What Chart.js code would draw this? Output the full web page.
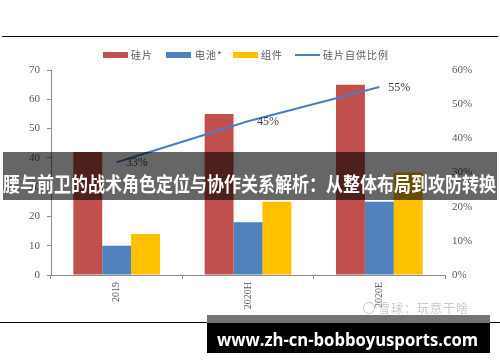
<!DOCTYPE html>
<html>
<head>
<meta charset="utf-8">
<script src="https://cdn.jsdelivr.net/npm/chart.js@4.4.0/dist/chart.umd.min.js"></script>
<style>
  html, body { margin: 0; padding: 0; background: #fff; }
  #wrap { position: relative; width: 500px; height: 362px; overflow: hidden; background: #fff; }
  #c { position: absolute; left: 0; top: 0; }
  .abs { position: absolute; }
  .hline { position: absolute; background: #000; height: 1px; }
  .lg-box { position: absolute; height: 6px; width: 25px; }
  .lg-txt { position: absolute; font-family: "Noto Sans CJK SC", sans-serif; font-size: 10px; color: #595959; line-height: 12px; letter-spacing: 1px; white-space: nowrap; }
  #banner { position: absolute; left: 3px; top: 152px; width: 494px; height: 48px; background: rgba(0,0,0,0.6); z-index: 5; }
  #bannerTxt { position: absolute; left: 3px; top: 172px; font-family: "Noto Sans CJK SC", sans-serif; font-weight: bold; font-size: 20px; line-height: 24px; color: #fff; white-space: nowrap; transform-origin: 0 0; z-index: 6; }
  #urlTop { position: absolute; left: 207px; top: 315px; width: 283px; height: 8px; background: #737373; z-index: 5; }
  #urlBox { position: absolute; left: 207px; top: 323px; width: 283px; height: 30px; background: #000; z-index: 5; }
  #urlTxt { position: absolute; left: 217px; top: 329px; font-family: "Open Sans", "DejaVu Sans", sans-serif; font-weight: bold; font-size: 17px; line-height: 22px; color: #fff; white-space: nowrap; transform-origin: 0 0; z-index: 6; }
  #wm { position: absolute; left: 363px; top: 301px; font-family: "Noto Sans CJK SC", sans-serif; font-size: 12px; color: #c8c8c8; white-space: nowrap; line-height: 14px; letter-spacing: 1px; }
  #wmLogo { display: inline-block; width: 10px; height: 10px; border: 1px solid #c8c8c8; border-radius: 50%; vertical-align: -1px; margin-right: 3px; }
</style>
</head>
<body>
<div id="wrap">
  <canvas id="c" width="500" height="362"></canvas>
  <div class="hline" style="left:2px; top:36px; width:496px;"></div>
  <div class="hline" style="left:0px; top:322px; width:500px;"></div>

  <div class="lg-box" style="left:103px; top:52px; background:#c0504d;"></div>
  <div class="lg-txt" style="left:131px; top:49px;">硅片</div>
  <div class="lg-box" style="left:166px; top:52px; background:#4f81bd;"></div>
  <div class="lg-txt" style="left:195px; top:49px;">电池*</div>
  <div class="lg-box" style="left:233px; top:52px; background:#ffc000;"></div>
  <div class="lg-txt" style="left:261px; top:49px;">组件</div>
  <div class="abs" style="left:295px; top:54px; width:25px; height:2px; background:#4a7ec2;"></div>
  <div class="lg-txt" style="left:323px; top:49px;">硅片自供比例</div>

  <div id="wm"><span id="wmLogo"></span>雪球：玩意干啥</div>

  <div id="banner"></div>
  <div id="bannerTxt">腰与前卫的战术角色定位与协作关系解析：从整体布局到攻防转换</div>
  <div id="urlTop"></div>
  <div id="urlBox"></div>
  <div id="urlTxt">www.zh-cn-bobboyusports.com</div>
</div>
<script>
const categories = ['2019', '2020H', '2020E'];
const waferValues = [42, 55, 65];
const cellValues = [10, 18, 25];
const moduleValues = [14, 25, 35];
const selfSupplyRatio = [33, 45, 55];
const seriesNames = ['硅片', '电池*', '组件', '硅片自供比例'];
const leftAxisMax = 70;
const rightAxisMax = 60;

function fitWidth(id, w) {
  const el = document.getElementById(id);
  const cur = el.scrollWidth;
  el.style.transform = 'scaleX(' + (w / cur) + ')';
}
fitWidth('bannerTxt', 493);
fitWidth('urlTxt', 261);

const lineLabels = {
  id: 'lineLabels',
  afterDatasetsDraw(chart) {
    const meta = chart.getDatasetMeta(0);
    const ctx = chart.ctx;
    ctx.save();
    ctx.font = '12px "Liberation Serif", serif';
    ctx.fillStyle = '#404040';
    ctx.textBaseline = 'middle';
    ctx.textAlign = 'left';
    meta.data.forEach((pt, i) => {
      ctx.fillText(selfSupplyRatio[i] + '%', pt.x + 9, pt.y + 1);
    });
    ctx.restore();
  }
};

const axisColor = '#8c8c8c';
const tickFont = { family: '"Liberation Serif", serif', size: 11 };

new Chart(document.getElementById('c'), {
  type: 'bar',
  data: {
    labels: categories,
    datasets: [
      { type: 'line', label: seriesNames[3], data: selfSupplyRatio, yAxisID: 'y1',
        borderColor: '#4a7ec2', borderWidth: 2, pointRadius: 0, tension: 0, fill: false, order: 0 },
      { label: seriesNames[0], data: waferValues, backgroundColor: '#c0504d', yAxisID: 'y',
        categoryPercentage: 0.66, barPercentage: 1.0, order: 1 },
      { label: seriesNames[1], data: cellValues, backgroundColor: '#4f81bd', yAxisID: 'y',
        categoryPercentage: 0.66, barPercentage: 1.0, order: 1 },
      { label: seriesNames[2], data: moduleValues, backgroundColor: '#ffc000', yAxisID: 'y',
        categoryPercentage: 0.66, barPercentage: 1.0, order: 1 }
    ]
  },
  options: {
    responsive: false,
    animation: false,
    devicePixelRatio: 1,
    layout: { padding: { top: 70, left: 0, right: 0, bottom: 0 } },
    plugins: { legend: { display: false }, tooltip: { enabled: false } },
    scales: {
      x: {
        offset: true,
        grid: { display: true, drawOnChartArea: false, drawTicks: true, tickLength: 4, color: axisColor },
        border: { display: true, color: axisColor },
        ticks: { minRotation: 90, maxRotation: 90, padding: 3, color: '#595959',
                 font: { family: '"Liberation Serif", serif', size: 10 } },
        afterFit(s) { s.height = 87; }
      },
      y: {
        position: 'left', min: 0, max: leftAxisMax,
        ticks: { stepSize: 10, padding: 7, color: '#595959', font: tickFont },
        grid: { display: true, drawOnChartArea: false, drawTicks: true, tickLength: 4, color: axisColor },
        border: { display: true, color: axisColor },
        afterFit(s) { s.width = 51; }
      },
      y1: {
        position: 'right', min: 0, max: rightAxisMax,
        ticks: { stepSize: 10, padding: 7, color: '#595959', font: tickFont, callback: v => v + '%' },
        grid: { display: false, drawTicks: false },
        border: { display: false },
        afterFit(s) { s.width = 55; }
      }
    }
  },
  plugins: [lineLabels]
});
</script>
</body>
</html>
